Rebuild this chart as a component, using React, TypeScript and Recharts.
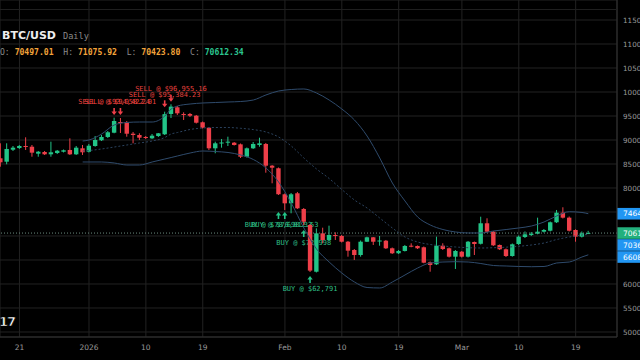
import React from "react";
import {
  ComposedChart,
  Bar,
  Line,
  XAxis,
  YAxis,
  CartesianGrid,
  ReferenceLine,
} from "recharts";

// day 0 = 1 Jan 2026, first candle is 18 Dec 2025
const FIRST_DAY = -14;

const opens = [
  86190, 85480, 87980, 88330, 88750, 88600, 87150, 87500, 87020, 87290, 87560, 87920, 87020, 88270,
  87560, 88750, 89940, 90630, 91520, 93750, 93690, 91310, 91040, 90630, 90350, 90830, 91190, 95420,
  96810, 95420, 95420, 95060, 93690, 92560, 88270, 89310, 89440, 89440, 89100, 86520, 88270, 88960,
  89170, 84650, 84110, 78690, 76810, 78900, 75630, 72290, 62560, 70560, 69170, 70210, 70000, 68810,
  67080, 66040, 68810, 69730, 68960, 69020, 67440, 66400, 66880, 67980, 67920, 67650, 64520, 64100,
  67980, 67440, 65690, 66730, 65690, 68750, 68380, 72650, 70900, 68130, 67230, 65830, 68330, 69790,
  70210, 70480, 70900, 71100, 72860, 74860, 73820, 71250, 69860, 70497.01,
];
const highs = [
  89310, 89310, 88750, 88960, 90560, 88960, 87710, 87710, 89650, 87920, 88020, 90350, 88750, 88960,
  89170, 90830, 91040, 91880, 94650, 94580, 93960, 91670, 91400, 90830, 91250, 91460, 95900, 97440,
  97080, 95770, 95630, 95210, 93850, 92710, 89650, 90210, 90690, 89580, 89270, 88440, 89580, 90480,
  89380, 84790, 84270, 78860, 78960, 79170, 75830, 72500, 71600, 71730, 72150, 70770, 70210, 68960,
  67290, 69060, 69860, 69790, 70000, 69170, 67600, 67080, 68130, 68480, 68020, 67810, 64690, 69860,
  68480, 67600, 67080, 66880, 68960, 68850, 74020, 73690, 71040, 68230, 67400, 68440, 70100, 70940,
  70830, 73820, 71460, 73020, 75420, 75980, 74060, 71400, 70940, 71075.92,
];
const lows = [
  84440, 84940, 87710, 88130, 87920, 86520, 86520, 86880, 86520, 87080, 87400, 86880, 86880, 86880,
  87400, 88600, 89790, 90420, 91400, 91460, 90690, 89310, 90000, 90210, 90210, 90630, 91040, 94580,
  95210, 94170, 94790, 93440, 92400, 87920, 87230, 88400, 88750, 88850, 86250, 86350, 88130, 88600,
  83190, 80980, 78540, 75420, 74730, 75630, 72290, 62500, 62400, 68480, 68960, 69170, 68650, 65690,
  65000, 65690, 68750, 68130, 67980, 67290, 66250, 66250, 66770, 67650, 67290, 64310, 62560, 63960,
  67080, 65520, 63130, 65520, 65520, 66040, 68230, 70730, 67920, 67080, 65620, 65690, 68130, 69580,
  70000, 70350, 70730, 70940, 72710, 73650, 70940, 68810, 69690, 70423.8,
];
const closes = [
  85350, 88130, 88400, 88750, 88540, 87360, 87560, 87020, 87440, 87770, 87860, 87020, 88400, 87440,
  88810, 90000, 90630, 91610, 93960, 93540, 91310, 91040, 90480, 90420, 90900, 91400, 95384.23, 96955.16,
  95560, 95270, 95060, 93600, 92560, 88270, 89310, 89480, 89650, 88960, 86520, 88270, 89170, 89310,
  84650, 84230, 78698.33, 76810, 78690, 75770, 72980, 62791, 70560, 69170, 70210, 70000, 68810, 66940,
  66040, 68810, 69730, 68810, 69060, 67440, 66400, 66880, 67920, 67770, 67440, 64440, 63960, 67980,
  67290, 65690, 66880, 65690, 68810, 68330, 72650, 70900, 68060, 67230, 65830, 68270, 69860, 70350,
  70480, 70900, 71250, 72860, 74860, 73820, 71100, 69860, 70560, 70612.34,
];

// Bollinger bands (20, 2)
const bandDays = [
  -1, 0, 2, 4, 6, 8, 10, 12, 13, 14, 16, 18, 20, 22, 24, 26, 28, 30, 32, 34, 36, 38, 40, 42, 44, 46,
  48, 50, 52, 54, 56, 58, 60, 62, 64, 66, 68, 70, 72, 74, 76, 78, 79,
];
const upperBand = [
  89790, 90000, 91250, 93130, 93650, 93750, 93750, 95000, 96460, 97080, 97500, 97710, 97810, 97920,
  98020, 98330, 99380, 100210, 100520, 100630, 99790, 98330, 96460, 94170, 90830, 86250, 81040, 77290,
  73960, 72290, 71350, 70830, 70630, 70630, 71040, 71350, 71670, 72080, 72920, 74170, 75060, 74900, 74640,
];
const midBand = [
  87710, 87810, 88130, 88540, 88960, 89380, 89790, 90520, 91250, 91560, 92190, 92500, 92600, 92600,
  92440, 92170, 91670, 90630, 88750, 86250, 83960, 81980, 79690, 77500, 75830, 73750, 71670, 69790,
  68750, 68230, 67920, 67710, 67560, 67500, 67560, 67670, 67860, 68130, 68540, 69270, 69790, 70210, 70360,
];
const lowerBand = [
  85420, 85420, 85420, 85210, 84790, 84790, 85420, 86040, 86350, 86670, 87290, 87710, 87600, 87400,
  86880, 85940, 84170, 81250, 76880, 71670, 67290, 64580, 62290, 60420, 59270, 59170, 60420, 61880,
  63330, 64380, 64580, 64650, 64580, 64270, 63850, 63750, 63650, 63600, 63650, 64380, 64580, 65630, 66080,
];

// trade signals: arrow tip price and text
const signalDays = [4, 5, 12, 13, 30, 31, 34, 35];
const signalSides = ["SELL", "SELL", "SELL", "SELL", "BUY", "BUY", "BUY", "BUY"];
const signalPrices = [95210, 95210, 96810, 97980, 75000, 75000, 71250, 61670];
const signalLabels = [
  "SELL @ $93,958.24",
  "SELL @ $94,422.01",
  "SELL @ $95,384.23",
  "SELL @ $96,955.16",
  "BUY @ $78,698.33",
  "BUY @ $76,812.53",
  "BUY @ $72,998",
  "BUY @ $62,791",
];

const tickDays = [-11, 0, 9, 18, 31, 40, 49, 59, 68, 77];
const tickLabels = ["21", "2026", "10", "19", "Feb", "10", "19", "Mar", "10", "19"];
const priceTicks = [
  50000, 55000, 60000, 65000, 70000, 75000, 80000, 85000, 90000, 95000, 100000, 105000, 110000, 115000,
];
const coveredTicks = [65000, 70000, 75000];

const tagValues = [74640, 70612.34, 70360, 66080];
const tagTexts = ["74640", "70612", "70360", "66080"];

const ohlcLabels = ["O:", "H:", "L:", "C:"];
const ohlcValues = ["70497.01", "71075.92", "70423.80", "70612.34"];

const UP = "#22c487";
const DOWN = "#ee3f49";
const BAND = "#2f4b6c";
const MONO = "'DejaVu Sans Mono', monospace";
const SANS = "'DejaVu Sans', sans-serif";
const tagColors = ["#2196f3", "#22b07d", "#2196f3", "#2196f3"];
const tagShift = [0, 0, 10.7, 2.2];

const rows: any[] = opens.map((open, i) => ({
  day: FIRST_DAY + i,
  open,
  high: highs[i],
  low: lows[i],
  close: closes[i],
  range: [lows[i], highs[i]],
}));
bandDays.forEach((d, j) => {
  const r = rows[d - FIRST_DAY];
  r.upper = upperBand[j];
  r.mid = midBand[j];
  r.lower = lowerBand[j];
});
signalDays.forEach((d, j) => {
  const r = rows[d - FIRST_DAY];
  r.side = signalSides[j];
  r.sigPrice = signalPrices[j];
  r.sigLabel = signalLabels[j];
});

const Candle = (props: any) => {
  const { x, y, width, height } = props;
  const p = props.payload || props;
  if (height == null || p.high == null) return null;
  const perUnit = p.high > p.low ? height / (p.high - p.low) : 0;
  const toY = (v: number) => y + (p.high - v) * perUnit;
  const cx = x + width / 2;
  const color = p.close >= p.open ? UP : DOWN;
  const top = toY(Math.max(p.open, p.close));
  const bodyH = Math.max(1, Math.abs(toY(p.open) - toY(p.close)));
  let marker = null;
  if (p.side) {
    const ys = toY(p.sigPrice);
    if (p.side === "SELL") {
      marker = (
        <g>
          <line x1={cx} x2={cx} y1={ys - 7} y2={ys - 3} stroke={DOWN} strokeWidth={1.6} />
          <polygon points={`${cx - 2.7},${ys - 3.5} ${cx + 2.7},${ys - 3.5} ${cx},${ys}`} fill={DOWN} />
          <text x={cx} y={ys - 10.5} textAnchor="middle" fill="#e8423f" fontSize={7} fontFamily={MONO}>
            {p.sigLabel}
          </text>
        </g>
      );
    } else {
      marker = (
        <g>
          <line x1={cx} x2={cx} y1={ys + 3} y2={ys + 7} stroke={UP} strokeWidth={1.6} />
          <polygon points={`${cx - 2.7},${ys + 3.5} ${cx + 2.7},${ys + 3.5} ${cx},${ys}`} fill={UP} />
          <text x={cx} y={ys + 15.5} textAnchor="middle" fill="#2fbf86" fontSize={7} fontFamily={MONO}>
            {p.sigLabel}
          </text>
        </g>
      );
    }
  }
  return (
    <g>
      <line x1={cx} x2={cx} y1={y} y2={y + height} stroke={color} strokeWidth={1} />
      <rect x={cx - 2.2} y={top} width={4.4} height={bodyH} fill={color} />
      {marker}
    </g>
  );
};

const XTick = (props: any) => {
  const { x, y, payload } = props;
  const i = tickDays.indexOf(payload.value);
  return (
    <text x={x} y={y} dy={6.5} textAnchor="middle" fill="#9a9a9a" fontSize={7.5} fontFamily={SANS}>
      {tickLabels[i]}
    </text>
  );
};

const YTick = (props: any) => {
  const { x, y, payload } = props;
  if (coveredTicks.includes(payload.value)) return <g />;
  return (
    <text x={x} y={y} dy={2.6} textAnchor="start" fill="#9a9a9a" fontSize={7.2} fontFamily={SANS}>
      {payload.value}
    </text>
  );
};

const PriceTag = (props: any) => {
  const { viewBox, text, color, shift } = props;
  if (!viewBox) return null;
  const left = viewBox.x + viewBox.width;
  const cy = viewBox.y + shift;
  return (
    <g>
      <rect x={left} y={cy - 5.8} width={30} height={11.6} fill={color} />
      <text x={left + 6} y={cy + 2.7} fill="#ffffff" fontSize={7.5} fontFamily={SANS}>
        {text}
      </text>
    </g>
  );
};

export default function App() {
  return (
    <div
      style={{
        position: "fixed",
        left: 0,
        top: 0,
        width: 640,
        height: 360,
        background: "#000",
        overflow: "hidden",
      }}
    >
      <ComposedChart width={640} height={360} data={rows} margin={{ top: 0, right: 0, bottom: 0, left: 0 }}>
        <CartesianGrid stroke="#222222" strokeWidth={1} />
        <XAxis
          dataKey="day"
          type="number"
          domain={[-14.08, 83.54]}
          ticks={tickDays}
          allowDataOverflow
          height={23}
          tickLine={false}
          tickSize={0}
          tickMargin={6}
          axisLine={{ stroke: "#333" }}
          tick={<XTick />}
          interval={0}
        />
        <YAxis
          orientation="right"
          type="number"
          domain={[48958, 119167]}
          ticks={priceTicks}
          allowDataOverflow
          width={23}
          tickLine={false}
          tickSize={0}
          tickMargin={6}
          axisLine={{ stroke: "#333" }}
          tick={<YTick />}
          interval={0}
        />
        <ReferenceLine y={70612.34} stroke="#6a8a7e" strokeDasharray="1 2" />
        <Line dataKey="upper" type="monotone" stroke={BAND} strokeWidth={1} dot={false} connectNulls isAnimationActive={false} />
        <Line dataKey="mid" type="monotone" stroke="#2b425d" strokeWidth={1} strokeDasharray="2 2" dot={false} connectNulls isAnimationActive={false} />
        <Line dataKey="lower" type="monotone" stroke={BAND} strokeWidth={1} dot={false} connectNulls isAnimationActive={false} />
        <Bar dataKey="range" barSize={4} shape={Candle} isAnimationActive={false} />
        {tagValues.map((v, i) => (
          <ReferenceLine
            key={i}
            y={v}
            stroke="none"
            label={<PriceTag text={tagTexts[i]} color={tagColors[i]} shift={tagShift[i]} />}
          />
        ))}
      </ComposedChart>

      <div style={{ position: "absolute", left: 0, top: 9, width: 617, height: 1, background: "#1f1f1f" }} />

      <div style={{ position: "absolute", left: 2, top: 28, lineHeight: "12px", whiteSpace: "pre" }}>
        <span style={{ font: `bold 11px ${SANS}`, color: "#eeeeee" }}>BTC/USD</span>
        <span style={{ font: `8.6px ${MONO}`, color: "#8a8a8a", marginLeft: 7 }}>Daily</span>
      </div>

      <div style={{ position: "absolute", left: 0, top: 46.5, lineHeight: "10px", whiteSpace: "pre", font: `8.1px ${MONO}` }}>
        {ohlcLabels.map((l, i) => (
          <span key={l}>
            <span style={{ color: "#8c8c8c" }}>{l} </span>
            <span style={{ color: i === 3 ? "#2bc48f" : "#f2a33a", fontWeight: "bold" }}>{ohlcValues[i]}</span>
            {i < 3 ? "  " : ""}
          </span>
        ))}
      </div>

      <div
        style={{
          position: "absolute",
          left: -1,
          top: 314,
          font: `900 13px ${SANS}`,
          color: "#fff",
          letterSpacing: -1,
          WebkitTextStroke: "0.6px #000",
        }}
      >
        17
      </div>
    </div>
  );
}
